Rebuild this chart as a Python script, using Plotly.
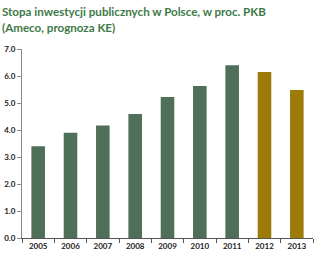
import plotly.graph_objects as go

years = ["2005", "2006", "2007", "2008", "2009", "2010", "2011", "2012", "2013"]
values = [3.4, 3.9, 4.17, 4.59, 5.22, 5.63, 6.4, 6.15, 5.48]
colors = ["#4f6f58"] * 7 + ["#9c7b0b"] * 2
title_line1 = "Stopa inwestycji publicznych w Polsce, w proc. PKB"
title_line2 = "(Ameco, prognoza KE)"
y_ticks = [0, 1, 2, 3, 4, 5, 6, 7]

fig = go.Figure(go.Bar(x=years, y=values, marker=dict(color=colors, line=dict(width=0)), width=0.42))

fig.update_layout(
    width=316, height=262,
    margin=dict(l=22, r=3, t=49, b=24),
    paper_bgcolor="white", plot_bgcolor="white",
    showlegend=False,
    font=dict(family="Lato", size=8, color="#222"),
)
fig.add_annotation(text="<b>" + title_line1 + "</b>", xref="paper", yref="paper",
                   x=-22/291, y=1 + 38/189, xanchor="left", yanchor="middle", showarrow=False,
                   font=dict(family="Lato", size=11.6, color="#3d7a47"))
fig.add_annotation(text="<b>" + title_line2 + "</b>", xref="paper", yref="paper",
                   x=-22/291, y=1 + 22/189, xanchor="left", yanchor="middle", showarrow=False,
                   font=dict(family="Lato", size=11.6, color="#3d7a47"))
fig.update_yaxes(range=[0, 7], tickvals=y_ticks, tickformat=".1f",
                 showgrid=False, showline=True, linecolor="#8a8a8a", linewidth=1,
                 ticks="outside", ticklen=4, tickcolor="#8a8a8a",
                 tickfont=dict(family="Lato", size=8, color="#222", weight="bold"), zeroline=False)
fig.update_xaxes(showline=True, linecolor="#555", linewidth=1, ticks="outside",
                 tickson="boundaries", ticklen=4, tickcolor="#555",
                 tickfont=dict(family="Lato", size=8, color="#222", weight="bold"))
fig.write_html("out.html")
